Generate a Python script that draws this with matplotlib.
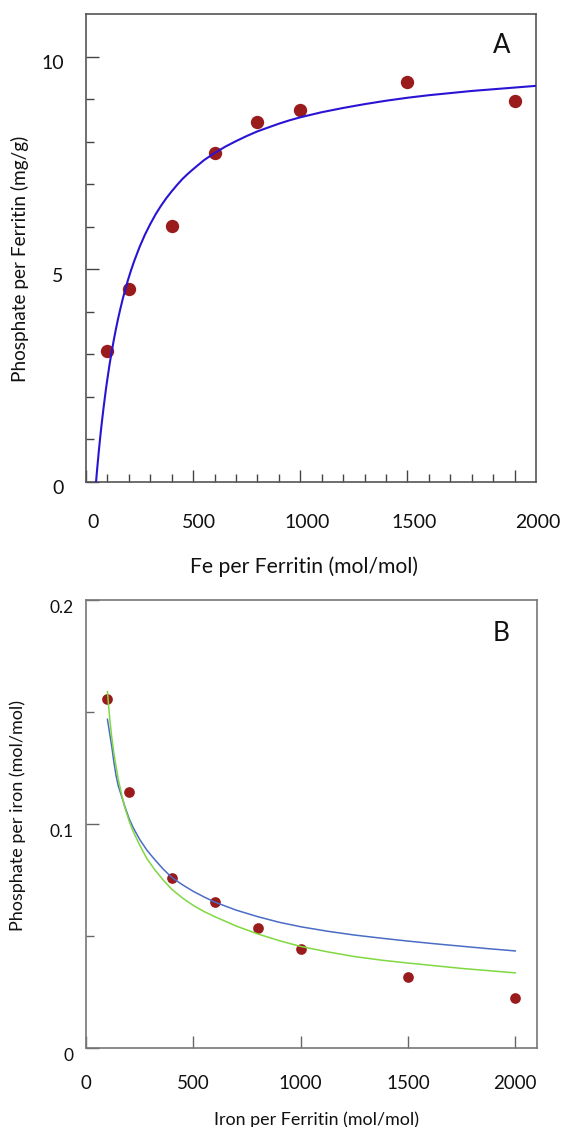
import matplotlib
matplotlib.use("Agg")
import matplotlib.pyplot as plt
from matplotlib.ticker import FixedLocator
from matplotlib.transforms import ScaledTranslation

plt.rcParams['font.family'] = ['Lato', 'DejaVu Sans']

# ---------------- data ----------------
# Panel A: phosphate per ferritin (mg/g) vs Fe per ferritin
fe_a = [100, 200, 400, 600, 800, 1000, 1500, 2000]
phos_a = [3.08, 4.53, 6.01, 7.73, 8.46, 8.75, 9.40, 8.95]

# fitted curve of panel A
fit_a_x = [47, 50, 55, 60, 65, 70, 75, 81, 88, 95, 102, 110, 120, 130, 140, 150, 160,
           172, 185, 195, 210, 225, 250, 275, 300, 325, 350, 375, 400, 425, 450, 475,
           500, 550, 600, 650, 700, 750, 800, 850, 900, 950, 1000, 1100, 1200, 1300,
           1400, 1500, 1600, 1700, 1800, 1900, 2000, 2100]
fit_a_y = [0.0, 0.18, 0.46, 0.73, 0.98, 1.22, 1.44, 1.70, 1.98, 2.25, 2.49, 2.76, 3.06,
           3.34, 3.60, 3.84, 4.06, 4.31, 4.55, 4.73, 4.97, 5.19, 5.52, 5.81, 6.06, 6.29,
           6.49, 6.67, 6.83, 6.98, 7.12, 7.24, 7.35, 7.56, 7.73, 7.88, 8.01, 8.13, 8.24,
           8.33, 8.42, 8.50, 8.57, 8.69, 8.79, 8.88, 8.96, 9.03, 9.09, 9.14, 9.19, 9.23,
           9.27, 9.31]

# Panel B: phosphate per iron (mol/mol) vs iron per ferritin
fe_b = [100, 200, 400, 600, 800, 1000, 1500, 2000]
phos_b = [0.1555, 0.1143, 0.0759, 0.0650, 0.0533, 0.0442, 0.0315, 0.0223]

blue_b_x = [100, 110, 120, 130, 140, 150, 165, 180, 200, 220, 250, 283, 320, 360, 400,
            450, 500, 550, 600, 700, 800, 900, 1000, 1125, 1250, 1375, 1500, 1625,
            1750, 1875, 2000]
blue_b_y = [0.1466, 0.1405, 0.1345, 0.1275, 0.1215, 0.1170, 0.1125, 0.1080, 0.1025,
            0.0982, 0.0930, 0.0883, 0.0840, 0.0797, 0.0760, 0.0727, 0.0698, 0.0673,
            0.0650, 0.0614, 0.0585, 0.0560, 0.0540, 0.0520, 0.0503, 0.0489, 0.0476,
            0.0464, 0.0453, 0.0442, 0.0432]

green_b_x = [100, 105, 110, 120, 130, 140, 150, 165, 180, 200, 220, 250, 283, 320, 360,
             400, 450, 500, 550, 600, 700, 800, 900, 1000, 1125, 1250, 1375, 1500,
             1625, 1750, 1875, 2000]
green_b_y = [0.1590, 0.1530, 0.1475, 0.1385, 0.1315, 0.1255, 0.1200, 0.1135, 0.1075,
             0.1015, 0.0965, 0.0905, 0.0845, 0.0795, 0.0748, 0.0707, 0.0668, 0.0635,
             0.0608, 0.0585, 0.0543, 0.0508, 0.0478, 0.0452, 0.0428, 0.0407, 0.0391,
             0.0378, 0.0366, 0.0354, 0.0344, 0.0334]

xticks = [0, 500, 1000, 1500, 2000]
xtick_labels = ['0', '500', '1000', '1500', '2000']
yticks_a = [0, 5, 10]
ytick_labels_a = ['0', '5', '10']
yticks_b = [0, 0.1, 0.2]
ytick_labels_b = ['0', '0.1', '0.2']

# ---------------- figure ----------------
W, H = 563, 1127
fig = plt.figure(figsize=(W / 100, H / 100), dpi=100)

def ax_rect(l, r, t, b):
    return [l / W, 1 - b / H, (r - l) / W, (b - t) / H]

def shift(label, dx_px, dy_px):
    label.set_transform(label.get_transform() +
                        ScaledTranslation(dx_px / 100, dy_px / 100, fig.dpi_scale_trans))

def fit_length(txt, target_px, vertical=False):
    fig.canvas.draw()
    bb = txt.get_window_extent(fig.canvas.get_renderer())
    cur = bb.height if vertical else bb.width
    txt.set_fontsize(txt.get_fontsize() * target_px / cur)

dot_color = '#991b1b'
text_color = '#111111'

# ---- Panel A ----
axA = fig.add_axes(ax_rect(86, 536, 14, 481.7))
axA.plot(fe_a, phos_a, 'o', color=dot_color, markersize=9.6, markeredgewidth=0, zorder=2)
axA.plot(fit_a_x, fit_a_y, '-', color='#2a14d4', lw=1.5, zorder=3,
         solid_joinstyle='round', solid_capstyle='round')
axA.set_xlim(0, 2100)
axA.set_ylim(0, 11)
axA.xaxis.set_major_locator(FixedLocator(xticks))
axA.set_xticklabels(xtick_labels)
axA.xaxis.set_minor_locator(FixedLocator([v for v in range(100, 2100, 100) if v % 500]))
axA.yaxis.set_major_locator(FixedLocator(yticks_a))
axA.set_yticklabels(ytick_labels_a)
axA.yaxis.set_minor_locator(FixedLocator([1, 2, 3, 4, 6, 7, 8, 9]))
axA.tick_params(which='both', direction='in', color='#444444', width=1.0,
                labelsize=14, labelcolor=text_color)
axA.tick_params(which='major', length=9)
axA.tick_params(which='minor', length=6)
axA.tick_params(axis='x', which='major', pad=23)
axA.tick_params(axis='y', which='major', pad=16)
for s in axA.spines.values():
    s.set_color('#555555')
    s.set_linewidth(1.2)
axA.set_xlabel('Fe per Ferritin (mol/mol)', fontsize=14, color=text_color, va='center')
axA.xaxis.set_label_coords((304.4 - 86) / 450, (481.7 - 566.7) / 467.7)
axA.set_ylabel('Phosphate per Ferritin (mg/g)', fontsize=14, color=text_color, va='center')
axA.yaxis.set_label_coords((20.0 - 86) / 450, (481.7 - 258.5) / 467.7)
axA.text((501.5 - 86) / 450, (481.7 - 45.8) / 467.7, 'A', transform=axA.transAxes,
         fontsize=18.5, ha='center', va='center', color=text_color)

# ---- Panel B ----
axB = fig.add_axes(ax_rect(86, 536.7, 599.7, 1047.7))
axB.plot(fe_b, phos_b, 'o', color=dot_color, markersize=7.7, markeredgewidth=0, zorder=2)
axB.plot(blue_b_x, blue_b_y, '-', color='#4a6cc6', lw=1.1, zorder=3,
         solid_joinstyle='round')
axB.plot(green_b_x, green_b_y, '-', color='#80d840', lw=1.1, zorder=3,
         solid_joinstyle='round')
axB.set_xlim(0, 2100)
axB.set_ylim(0, 0.2)
axB.xaxis.set_major_locator(FixedLocator(xticks))
axB.set_xticklabels(xtick_labels)
axB.yaxis.set_major_locator(FixedLocator(yticks_b))
axB.set_yticklabels(ytick_labels_b)
axB.yaxis.set_minor_locator(FixedLocator([0.05, 0.15]))
axB.tick_params(which='both', direction='in', color='#666666', width=1.0,
                labelcolor=text_color)
axB.tick_params(axis='x', which='major', length=9, pad=20, labelsize=13.5)
axB.tick_params(axis='y', which='major', length=9, pad=9, labelsize=12.5)
axB.tick_params(axis='y', which='minor', length=5.5)
for s in axB.spines.values():
    s.set_color('#777777')
    s.set_linewidth(1.2)
axB.set_xlabel('Iron per Ferritin (mol/mol)', fontsize=13.5, color=text_color, va='baseline')
axB.xaxis.set_label_coords((316 - 86) / 450.7, (1047.7 - 1125) / 448)
axB.set_ylabel('Phosphate per iron (mol/mol)', fontsize=12, color=text_color, va='center')
axB.yaxis.set_label_coords((17.6 - 86) / 450.7, (1047.7 - 815) / 448)
axB.text((501 - 86) / 450.7, (1047.7 - 633.8) / 448, 'B', transform=axB.transAxes,
         fontsize=19, ha='center', va='center', color=text_color)

# size axis titles to the lengths they have in the original
fit_length(axA.xaxis.label, 228)
fit_length(axA.yaxis.label, 247, vertical=True)
fit_length(axB.xaxis.label, 205)
fit_length(axB.yaxis.label, 230, vertical=True)

# tick label offsets to mimic the original placement
a_x_shift = [7, 6, 7, 7, 23]
for lab, dx in zip(axA.get_xticklabels(), a_x_shift):
    shift(lab, dx, 0)
for lab in axA.get_yticklabels():
    shift(lab, 0, -5.5)
for lab in axB.get_yticklabels():
    shift(lab, 0, -7)

fig.savefig('out.png', dpi=100)
